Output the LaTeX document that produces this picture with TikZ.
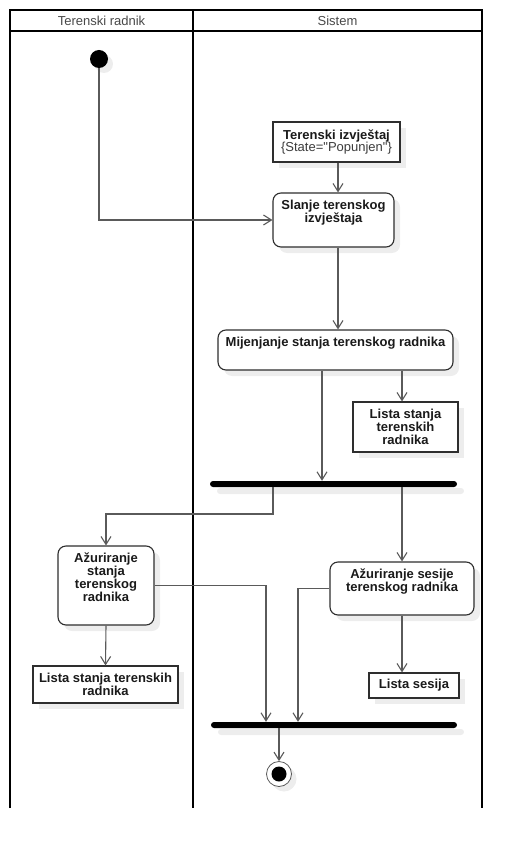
\documentclass[tikz,border=0pt]{standalone}
\usepackage{fontspec}
\setmainfont{Liberation Sans}
\usetikzlibrary{arrows.meta,shadows,calc}
\definecolor{linec}{HTML}{5A5A5A}
\definecolor{boxc}{HTML}{2E2E2E}
\definecolor{shadc}{HTML}{EDEDED}
\definecolor{txtc}{HTML}{1A1A1A}
\definecolor{statec}{HTML}{3C3C3C}
\newcommand\dfont{\fontsize{13}{12.8}\selectfont}
\begin{document}
\begin{tikzpicture}[x=1pt,y=-1pt,
  lane/.style={line width=2pt,black},
  shad/.style={general shadow={fill=shadc,shadow xshift=6pt,shadow yshift=-6pt}},
  act/.style={shad,draw=boxc,fill=white,line width=1.1pt,rounded corners=8pt,inner sep=0pt},
  atext/.style={anchor=base,align=center,inner sep=0pt,font=\bfseries\dfont,text=txtc},
  obj/.style={shad,draw=boxc,fill=white,line width=1.1pt,inner sep=0pt,align=center,font=\bfseries\dfont,text=txtc},
  bar/.style={general shadow={fill=shadc,shadow xshift=7pt,shadow yshift=-7pt},fill=black,rounded corners=3pt,inner sep=0pt,minimum height=6pt},
  flow/.style={draw=linec,line width=1.1pt,-{Straight Barb[length=8pt,width=10pt,line width=1.1pt]}},
  hdr/.style={font=\fontsize{13}{14}\selectfont,text=txtc!80!white}]
\useasboundingbox (0,0) rectangle (522,850);

% swimlanes
\draw[lane] (10,808) -- (10,10) -- (482,10) -- (482,808);
\draw[lane] (10,31) -- (482,31);
\draw[lane] (193,10) -- (193,808);
\node[hdr] (h1) at (101.5,21) {Terenski radnik};
\node[hdr] (h2) at (337.5,21) {Sistem};

% initial and final states
\node[circle,fill=black,minimum size=18pt,inner sep=0pt,general shadow={fill=shadc,shadow xshift=5pt,shadow yshift=-5pt}] (init) at (99,59) {};
\node[circle,draw=linec,line width=0.8pt,fill=white,minimum size=25pt,inner sep=0pt,general shadow={fill=shadc,shadow xshift=5pt,shadow yshift=-5pt}] (final) at (279,774) {};
\fill[black] (final.center) circle (7.5);

% objects
\node[obj,minimum width=127pt,minimum height=40pt] (tiz) at (336.5,142)
  {Terenski izvještaj\\\mdseries\color{statec}\{State=\textquotedbl Popunjen\textquotedbl\}};
\node[obj,minimum width=105pt,minimum height=50pt] (lst1) at (405.5,427)
  {Lista stanja\\terenskih\\radnika};
\node[obj,minimum width=145pt,minimum height=37pt] (lst2) at (105.5,684.5)
  {Lista stanja terenskih\\radnika};
\node[obj,minimum width=90pt,minimum height=25pt] (lses) at (414,685.5) {Lista sesija};

% actions (text placed by the baseline of its last line)
\node[act,minimum width=121pt,minimum height=54pt] (slanje) at (333.5,220) {};
\node[atext] (slanjet) at ($(slanje.north)+(0,30.3)$) {Slanje terenskog\\izvještaja};
\node[act,minimum width=235pt,minimum height=40pt] (mij) at (335.5,350) {};
\node[atext] (mijt) at ($(mij.north)+(0,17.5)$) {Mijenjanje stanja terenskog radnika};
\node[act,minimum width=96pt,minimum height=79pt] (azs) at (106,585.5) {};
\node[atext] (azst) at ($(azs.north)+(0,55.9)$) {Ažuriranje\\stanja\\terenskog\\radnika};
\node[act,minimum width=144pt,minimum height=53pt] (ases) at (402,588.5) {};
\node[atext] (asest) at ($(ases.north)+(0,30.3)$) {Ažuriranje sesije\\terenskog radnika};

% fork / join bars
\node[bar,minimum width=247pt] (bar1) at (333.5,484) {};
\node[bar,minimum width=246pt] (bar2) at (334,725) {};

% control and object flows
\draw[flow] (init) |- (slanje.west);
\draw[flow] (338,0 |- tiz.south) -- (338,0 |- slanje.north);
\draw[flow] (338,0 |- slanje.south) -- (338,0 |- mij.north);
\draw[flow] (322,0 |- mij.south) -- (322,0 |- bar1.north);
\draw[flow] (402,0 |- mij.south) -- (402,0 |- lst1.north);
\draw[flow] (273,0 |- bar1.south) -- (273,514) -| (azs.north);
\draw[flow] (402,0 |- bar1.south) -- (402,0 |- ases.north);
\draw[flow] (azs.east) -| (266,0 |- bar2.north);
\draw[flow] (ases.west) -| (298,0 |- bar2.north);
\draw[flow] (azs.south) -- (lst2.north);
\draw[flow] (402,0 |- ases.south) -- (402,0 |- lses.north);
\draw[flow] (final.north |- bar2.south) -- (final.north);
\end{tikzpicture}
\end{document}
